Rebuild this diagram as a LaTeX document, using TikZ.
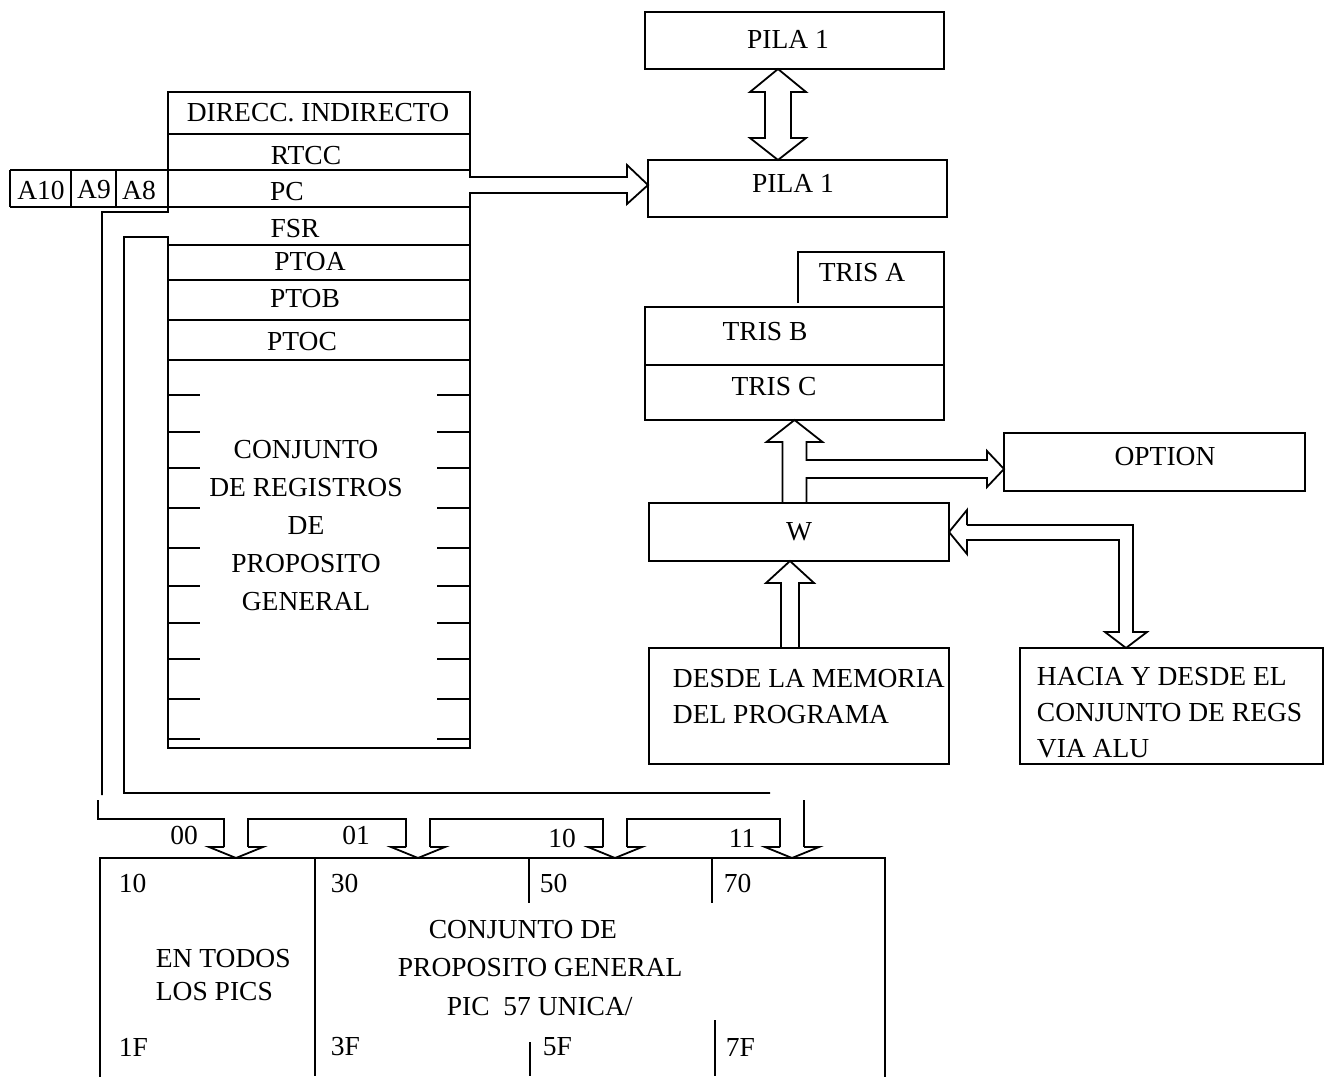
\documentclass[tikz,border=0pt]{standalone}
\usepackage{fontspec}
\setmainfont{Liberation Serif}
\usetikzlibrary{positioning,calc}

\begin{document}
\begin{tikzpicture}[x=1pt, y=-1pt, line width=1.8pt,
      font=\fontsize{27.5}{36}\selectfont,
      caja/.style={draw, inner sep=0pt, outer sep=0pt},
      txt/.style={inner sep=0pt},
      izq/.style={inner sep=0pt, anchor=west},
      bloque/.style={inner sep=0pt, anchor=north west, align=left}]
  \useasboundingbox (0,0) rectangle (1330,1076);

  % --- Pilas ----------------------------------------------------------
  \node[caja, minimum width=299, minimum height=57] (pila1) at (794.5,40.5) {};
  \node[txt] (tpila1) at (788,39) {PILA 1};
  \node[caja, minimum width=299, minimum height=57] (pila2) at (797.5,188.5) {};
  \node[txt] (tpila2) at (793,183) {PILA 1};

  \coordinate (d1) at ($(pila1.south)+(-16.5,0)$);
  \coordinate (d2) at (d1 |- pila2.north);
  \draw ($(d1)+(-13,23)$) -- ($(d1)+(-28,23)$) -- (d1) -- ($(d1)+(28,23)$)
     -- ($(d1)+(13,23)$) -- ($(d2)+(13,-22)$) -- ($(d2)+(28,-22)$) -- (d2)
     -- ($(d2)+(-28,-22)$) -- ($(d2)+(-13,-22)$) -- cycle;

  % --- Registros: marco, PC hacia la pila y los dos buses ---------------
  \coordinate (tpc) at ($(pila2.west)+(0,-3.5)$);
  \draw (102,795) -- (102,212) -- (168,212) -- (168,92) -- (470,92) -- (470,177)
     -- ($(tpc)+(-21,-8)$) -- ($(tpc)+(-21,-20)$) -- (tpc) -- ($(tpc)+(-21,19)$)
     -- ($(tpc)+(-21,8)$) -- (470,193) -- (470,748) -- (168,748) -- (168,237)
     -- (124,237) -- (124,793) -- (770,793);
  \foreach \y in {134,245,280,320,360} \draw (168,\y) -- (470,\y);
  \foreach \y in {170,207} \draw (10,\y) -- (470,\y);
  \foreach \x in {10,71,116} \draw (\x,170) -- (\x,207);
  \foreach \y in {395,432,468,508,548,586,623,659,699,739} {
    \draw (168,\y) -- (200,\y);
    \draw (437,\y) -- (470,\y);
  }

  \node[txt] (dir)  at (318,113) {DIRECC. INDIRECTO};
  \node[txt] (rtcc) at (306,156) {RTCC};
  \node[txt] (pc)   at (287,192) {PC};
  \node[txt] (fsr)  at (295,229) {FSR};
  \node[txt] (ptoa) at (310,262) {PTOA};
  \node[txt] (ptob) at (305,299) {PTOB};
  \node[txt] (ptoc) at (302,342) {PTOC};
  \node[txt] (a10)  at (41,190) {A10};
  \node[txt] (a9)   at (94,190) {A9};
  \node[txt] (a8)   at (139,190) {A8};
  \node[txt, align=center, font=\fontsize{27.5}{38}\selectfont] (gral) at (306,526)
     {CONJUNTO\\DE REGISTROS\\DE\\PROPOSITO\\GENERAL};

  % --- TRIS, OPTION y W -----------------------------------------------
  \node[caja, minimum width=299, minimum height=113] (tris) at (794.5,363.5) {};
  \draw (tris.west |- 0,365) -- (tris.east |- 0,365);
  \draw (798,303) -- (798,252) -- (944,252) -- (tris.north east);
  \node[txt] (trisa) at (862,273) {TRIS A};
  \node[txt] (trisb) at (765,332) {TRIS B};
  \node[txt] (trisc) at (774,387) {TRIS C};

  \node[caja, minimum width=301, minimum height=58] (option) at (1154.5,462) {};
  \node[txt] (topt) at (1165,457) {OPTION};
  \node[caja, minimum width=300, minimum height=58] (w) at (799,532) {W};
  \node[caja, minimum width=300, minimum height=116] (desde) at (799,706) {};
  \node[bloque] (tdesde) at (672,668) {DESDE LA MEMORIA\\DEL PROGRAMA};
  \node[caja, minimum width=303, minimum height=116] (hacia) at (1171.5,706) {};
  \node[bloque] (thacia) at (1036,666) {HACIA Y DESDE EL\\CONJUNTO DE REGS\\VIA ALU};

  % W sube a TRIS y se desvia a OPTION
  \coordinate (ta) at (tris.south);
  \coordinate (to) at ($(option.west)+(0,7)$);
  \coordinate (s1) at ($(ta)+(-12,0)$);
  \coordinate (s2) at ($(ta)+(12,0)$);
  \coordinate (o1) at ($(to)+(-17,-9)$);
  \coordinate (o2) at ($(to)+(-17,9)$);
  \draw (s1 |- w.north) -- ($(ta)+(-12,22)$) -- ($(ta)+(-28,22)$) -- (ta)
     -- ($(ta)+(28,22)$) -- ($(ta)+(12,22)$) -- (s2 |- o1) -- (o1)
     -- ($(to)+(-17,-18)$) -- (to) -- ($(to)+(-17,18)$)
     -- (o2) -- (s2 |- o2) -- (s2 |- w.north);

  % memoria de programa hacia W
  \coordinate (tw) at ($(w.south)+(-9,0)$);
  \coordinate (s3) at ($(tw)+(-9,0)$);
  \coordinate (s4) at ($(tw)+(9,0)$);
  \draw (s3 |- desde.north) -- ($(tw)+(-9,22)$) -- ($(tw)+(-24,22)$) -- (tw)
     -- ($(tw)+(24,22)$) -- ($(tw)+(9,22)$) -- (s4 |- desde.north);

  % W con el conjunto de registros
  \coordinate (we) at (w.east);
  \coordinate (th) at ($(hacia.north)+(-45.5,0)$);
  \draw ($(we)+(18,-7)$) -- ($(we)+(18,-22)$) -- (we) -- ($(we)+(18,22)$)
     -- ($(we)+(18,8)$) -| ($(th)+(-7,-16)$) -- ($(th)+(-21,-16)$) -- (th)
     -- ($(th)+(21,-16)$) -- ($(th)+(7,-16)$) |- ($(we)+(18,-7)$);

  % --- Paginas de la memoria de datos -----------------------------------
  \node[caja, minimum width=785, minimum height=260, anchor=north west] (mem) at (100,858) {};
  \draw (315,858) -- (315,1076);
  \draw (529,858) -- (529,903);
  \draw (530,1042) -- (530,1076);
  \draw (712,858) -- (712,903);
  \draw (715,1020) -- (715,1076);

  \draw (98,800) |- (224,819) -- (224,847);
  \foreach \a/\b in {248/406,430/603,627/780} \draw (\a,847) |- (\b,819) -- (\b,847);
  \draw (804,800) -- (804,847);
  \foreach \c in {236,418,615,792}
    \draw (\c-12,847) -- (\c-27,847) -- (\c,858) -- (\c+27,847) -- (\c+12,847);

  \node[txt] (b00) at (184,835) {00};
  \node[txt] (b01) at (356,835) {01};
  \node[txt] (b10) at (562,838) {10};
  \node[txt] (b11) at (742,838) {11};

  \node[izq] (p10) at (118,883) {10};
  \node[izq] (p30) at (330,883) {30};
  \node[izq] (p50) at (539,883) {50};
  \node[izq] (p70) at (723,883) {70};
  \node[izq] (p1f) at (118,1047) {1F};
  \node[izq] (p3f) at (330,1047) {3F};
  \node[izq] (p5f) at (542,1047) {5F};
  \node[izq] (p7f) at (725,1047) {7F};

  \node[bloque, font=\fontsize{27.5}{33}\selectfont] (todos) at (155,948) {EN TODOS\\LOS PICS};
  \node[izq] (c1) at (428,930) {CONJUNTO DE};
  \node[izq] (c2) at (397,968) {PROPOSITO GENERAL};
  \node[izq] (c3) at (446,1007) {PIC\ \ 57 UNICA/};
\end{tikzpicture}
\end{document}
